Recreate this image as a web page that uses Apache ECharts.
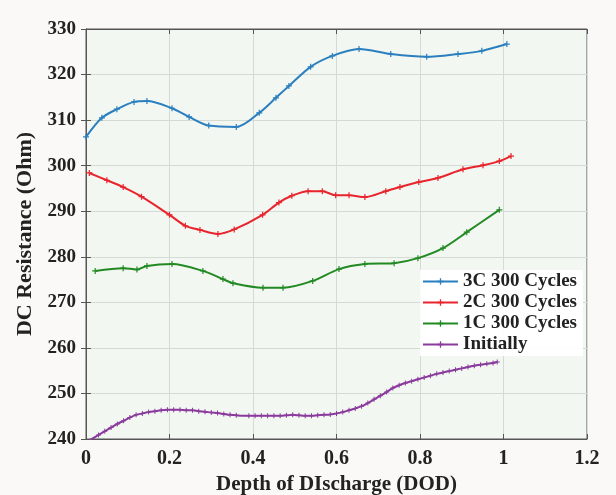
<!DOCTYPE html>
<html>
<head>
<meta charset="utf-8">
<script src="https://cdn.jsdelivr.net/npm/echarts@6/dist/echarts.min.js"></script>
<style>
  html, body { margin: 0; padding: 0; background: #fbf9f8; }
  #chart { width: 616px; height: 495px; }
</style>
</head>
<body>
<div id="chart"></div>
<script>
// values, [DOD, resistance]
const xTicks = [0, 0.2, 0.4, 0.6, 0.8, 1, 1.2];
const yTicks = [240, 250, 260, 270, 280, 290, 300, 310, 320, 330];

const cycles3C = [
  [0, 306.3], [0.038, 310.5], [0.074, 312.4], [0.115, 314.0], [0.146, 314.2],
  [0.206, 312.6], [0.247, 310.7], [0.294, 308.8], [0.36, 308.5], [0.415, 311.6],
  [0.455, 314.9], [0.486, 317.5], [0.538, 321.7], [0.59, 324.1], [0.654, 325.6],
  [0.73, 324.5], [0.816, 323.9], [0.891, 324.5], [0.948, 325.2], [1.008, 326.7]
];
const cycles2C = [
  [0.008, 298.4], [0.05, 296.8], [0.089, 295.3], [0.133, 293.2], [0.2, 289.2],
  [0.238, 286.8], [0.273, 285.9], [0.316, 285.0], [0.355, 286.0], [0.423, 289.2],
  [0.462, 291.9], [0.493, 293.4], [0.532, 294.4], [0.566, 294.4], [0.598, 293.5],
  [0.63, 293.5], [0.668, 293.1], [0.718, 294.4], [0.752, 295.3], [0.797, 296.4],
  [0.843, 297.3], [0.903, 299.2], [0.951, 300.1], [0.99, 301.0], [1.018, 302.1]
];
const cycles1C = [
  [0.022, 276.9], [0.089, 277.5], [0.122, 277.2], [0.146, 278.0], [0.206, 278.4],
  [0.28, 276.9], [0.328, 275.1], [0.352, 274.2], [0.424, 273.2], [0.472, 273.2],
  [0.543, 274.7], [0.606, 277.3], [0.668, 278.4], [0.738, 278.6], [0.795, 279.7],
  [0.855, 281.9], [0.912, 285.4], [0.99, 290.3]
];
const initially = [
  [0.01, 239.8], [0.03, 240.9], [0.045, 241.7], [0.06, 242.5], [0.075, 243.3],
  [0.09, 244.0], [0.105, 244.7], [0.12, 245.3], [0.135, 245.6], [0.15, 245.9],
  [0.165, 246.1], [0.18, 246.3], [0.195, 246.4], [0.21, 246.4], [0.225, 246.4],
  [0.24, 246.3], [0.255, 246.3], [0.27, 246.1], [0.285, 246.0], [0.3, 245.8],
  [0.315, 245.7], [0.33, 245.5], [0.345, 245.3], [0.36, 245.2], [0.39, 245.1],
  [0.405, 245.1], [0.42, 245.1], [0.435, 245.1], [0.45, 245.1], [0.465, 245.1],
  [0.48, 245.2], [0.495, 245.3], [0.51, 245.2], [0.525, 245.1], [0.54, 245.1],
  [0.555, 245.2], [0.57, 245.3], [0.585, 245.4], [0.6, 245.6], [0.615, 245.9],
  [0.63, 246.3], [0.645, 246.7], [0.66, 247.2], [0.675, 247.9], [0.69, 248.7],
  [0.705, 249.5], [0.72, 250.3], [0.735, 251.2], [0.75, 251.8], [0.765, 252.3],
  [0.78, 252.7], [0.795, 253.1], [0.81, 253.5], [0.825, 253.9], [0.84, 254.3],
  [0.855, 254.6], [0.87, 254.9], [0.885, 255.2], [0.9, 255.5], [0.915, 255.8],
  [0.93, 256.1], [0.945, 256.3], [0.96, 256.5], [0.975, 256.7], [0.985, 256.9]
];

const seriesNames = ['3C 300 Cycles', '2C 300 Cycles', '1C 300 Cycles', 'Initially'];
const seriesColors = ['#2b7fbf', '#e8242c', '#238a23', '#8a3a9c'];
const seriesData = [cycles3C, cycles2C, cycles1C, initially];

const font = 'Liberation Serif, Times New Roman, serif';
const plus = 'path://M4,0H6V4H10V6H6V10H4V6H0V4H4Z';

var myChart = echarts.init(document.getElementById('chart'));

const axisBase = {
  axisLine: { show: true, lineStyle: { color: '#555', width: 1 } },
  axisTick: { show: true, inside: true, length: 5, lineStyle: { color: '#555' } },
  splitLine: { show: false }
};

myChart.setOption({
  backgroundColor: '#fbf9f8',
  grid: {
    left: 86, top: 29, right: 29, bottom: 56,
    outerBoundsMode: 'none',
    show: true, backgroundColor: '#f2f7f2', borderColor: '#555', borderWidth: 1
  },
  legend: {
    data: seriesNames,
    orient: 'vertical',
    left: 420,
    top: 270,
    itemWidth: 35,
    itemHeight: 8,
    itemGap: 2,
    padding: [2, 6, 2, 2],
    backgroundColor: 'rgba(255,255,255,0.9)',
    textStyle: { fontFamily: font, fontWeight: 'bold', fontSize: 19, color: '#222' }
  },
  xAxis: [
    Object.assign({}, axisBase, {
      type: 'value', min: 0, max: 1.2, interval: 0.2,
      name: 'Depth of DIscharge (DOD)', nameLocation: 'middle', nameGap: 30,
      nameTextStyle: { fontFamily: font, fontWeight: 'bold', fontSize: 21, color: '#222' },
      axisLabel: {
        fontFamily: font, fontWeight: 'bold', fontSize: 20, color: '#222', margin: 10,
        formatter: v => xTicks.includes(+v.toFixed(1)) ? String(+v.toFixed(1)) : ''
      },
      splitLine: { show: true, lineStyle: { color: '#d4dad4', width: 1 } }
    }),
    Object.assign({}, axisBase, {
      type: 'value', min: 0, max: 1.2, interval: 0.2, position: 'top',
      axisLabel: { show: false }
    })
  ],
  yAxis: [
    Object.assign({}, axisBase, {
      type: 'value', min: 240, max: 330, interval: 10,
      name: 'DC Resistance (Ohm)', nameLocation: 'middle', nameGap: 42,
      nameTextStyle: { fontFamily: font, fontWeight: 'bold', fontSize: 22, color: '#222' },
      axisLabel: {
        fontFamily: font, fontWeight: 'bold', fontSize: 19, color: '#222', margin: 10,
        formatter: v => yTicks.includes(v) ? String(v) : ''
      },
      splitLine: { show: true, lineStyle: { color: '#d4dad4', width: 1 } }
    }),
    Object.assign({}, axisBase, {
      type: 'value', min: 240, max: 330, interval: 10, position: 'right',
      axisLabel: { show: false }
    })
  ],
  series: seriesNames.map((name, i) => ({
    name: name,
    type: 'line',
    data: seriesData[i],
    smooth: 0.3,
    symbol: plus,
    symbolSize: i === 3 ? 5 : 6,
    showSymbol: true,
    color: seriesColors[i],
    lineStyle: { width: 2, color: seriesColors[i] },
    itemStyle: { color: seriesColors[i] },
    z: 3 + i
  }))
});
</script>
</body>
</html>
